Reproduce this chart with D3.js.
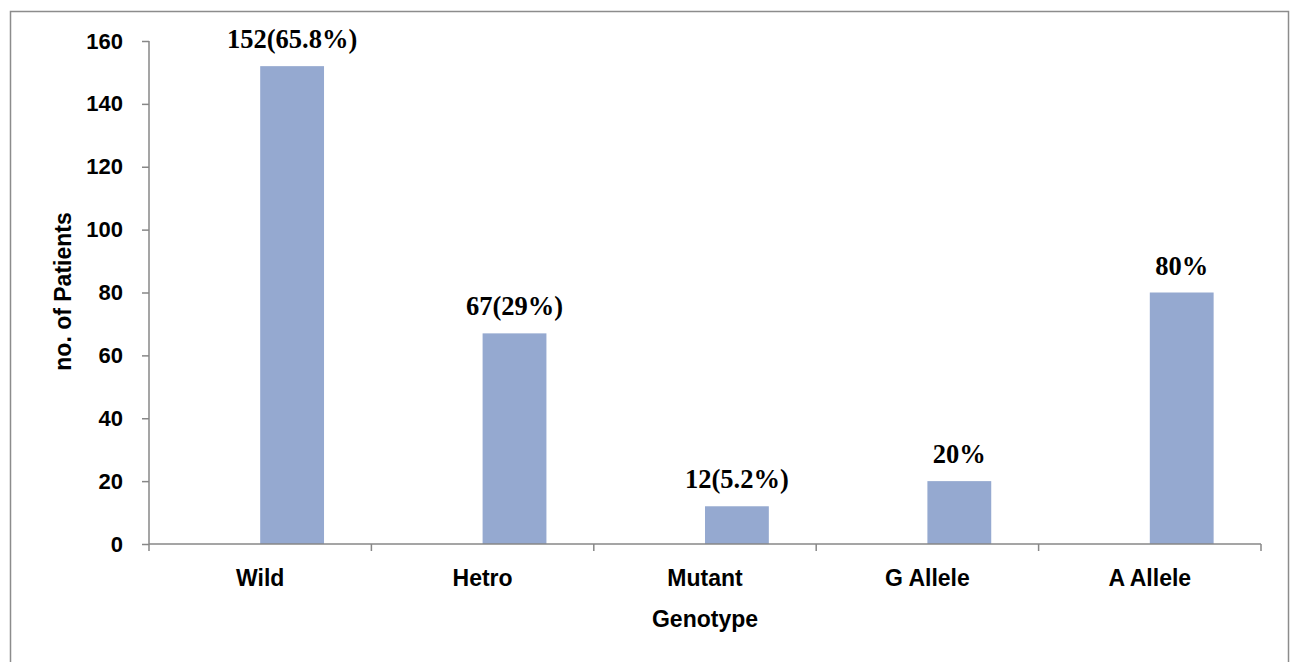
<!DOCTYPE html>
<html>
<head>
<meta charset="utf-8">
<script src="https://cdn.jsdelivr.net/npm/d3@7/dist/d3.min.js"></script>
<style>
  html, body { margin: 0; padding: 0; background: #fff; }
  svg { display: block; }
</style>
</head>
<body>
<svg id="chart" width="1290" height="662"></svg>
<script>
// Genotype distribution of patients
const categories = ["Wild", "Hetro", "Mutant", "G Allele", "A Allele"];
const patients = [152, 67, 12, 20, 80];
const valueLabels = ["152(65.8%)", "67(29%)", "12(5.2%)", "20%", "80%"];
const yTicks = [0, 20, 40, 60, 80, 100, 120, 140, 160];

const svg = d3.select("#chart");
const W = 1290, H = 662;
const margin = { left: 149, right: 29, top: 41, bottom: 118 };
const plotW = W - margin.left - margin.right;
const plotH = H - margin.top - margin.bottom;

const axisColor = "#878787";
const barColor = "#95a9d0";
const sansFont = "'Liberation Sans', Arial, sans-serif";
const serifFont = "'Liberation Serif', 'Times New Roman', serif";

// chart area frame
svg.append("rect")
  .attr("x", 10.5).attr("y", 11.5)
  .attr("width", 1278).attr("height", 700)
  .attr("fill", "none").attr("stroke", "#8c8c8c").attr("stroke-width", 1.5);

const g = svg.append("g").attr("transform", `translate(${margin.left},${margin.top})`);

const x = d3.scaleBand().domain(categories).range([0, plotW]).padding(0);
const y = d3.scaleLinear().domain([0, 160]).range([plotH, 0]);

const barW = x.bandwidth() * 0.287;

// bars sit just right of each category centre
g.selectAll("rect.bar")
  .data(categories)
  .join("rect")
  .attr("class", "bar")
  .attr("x", d => x(d) + x.bandwidth() / 2)
  .attr("y", (d, i) => y(patients[i]))
  .attr("width", barW)
  .attr("height", (d, i) => y(0) - y(patients[i]))
  .attr("fill", barColor);

// value labels
g.selectAll("text.val")
  .data(categories)
  .join("text")
  .attr("class", "val")
  .attr("x", d => x(d) + x.bandwidth() / 2 + barW / 2)
  .attr("y", (d, i) => y(patients[i]) - 18)
  .attr("text-anchor", "middle")
  .attr("font-family", serifFont)
  .attr("font-weight", "bold")
  .attr("font-size", 26.5)
  .attr("fill", "#000")
  .text((d, i) => valueLabels[i]);

// y axis
const yAxis = g.append("g")
  .call(d3.axisLeft(y).tickValues(yTicks).tickSize(7).tickPadding(19).tickFormat(d3.format("d")));
yAxis.select(".domain").attr("stroke", axisColor).attr("stroke-width", 1.5)
  .attr("d", `M0,${plotH}V0`);
yAxis.selectAll(".tick line").attr("stroke", axisColor).attr("stroke-width", 1.5);
yAxis.selectAll(".tick text")
  .attr("font-family", sansFont).attr("font-weight", "bold").attr("font-size", 22).attr("fill", "#000");

// x axis: ticks at category boundaries, labels at band centres
const xAxisG = g.append("g").attr("transform", `translate(0,${plotH})`);
xAxisG.append("line")
  .attr("x1", 0).attr("x2", plotW).attr("y1", 0).attr("y2", 0)
  .attr("stroke", axisColor).attr("stroke-width", 1.5);
const boundaries = categories.map(c => x(c)).concat([plotW]);
xAxisG.selectAll("line.tk")
  .data(boundaries)
  .join("line")
  .attr("class", "tk")
  .attr("x1", d => d).attr("x2", d => d)
  .attr("y1", 0).attr("y2", 7)
  .attr("stroke", axisColor).attr("stroke-width", 1.5);
xAxisG.selectAll("text.cat")
  .data(categories)
  .join("text")
  .attr("class", "cat")
  .attr("x", d => x(d) + x.bandwidth() / 2)
  .attr("y", 42)
  .attr("text-anchor", "middle")
  .attr("font-family", sansFont).attr("font-weight", "bold").attr("font-size", 23)
  .attr("fill", "#000")
  .text(d => d);

// axis titles
svg.append("text")
  .attr("x", margin.left + plotW / 2).attr("y", 627)
  .attr("text-anchor", "middle")
  .attr("font-family", sansFont).attr("font-weight", "bold").attr("font-size", 23)
  .text("Genotype");

svg.append("text")
  .attr("transform", `translate(71,${margin.top + plotH / 2 - 1}) rotate(-90)`)
  .attr("text-anchor", "middle")
  .attr("font-family", sansFont).attr("font-weight", "bold").attr("font-size", 23)
  .text("no. of Patients");
</script>
</body>
</html>
